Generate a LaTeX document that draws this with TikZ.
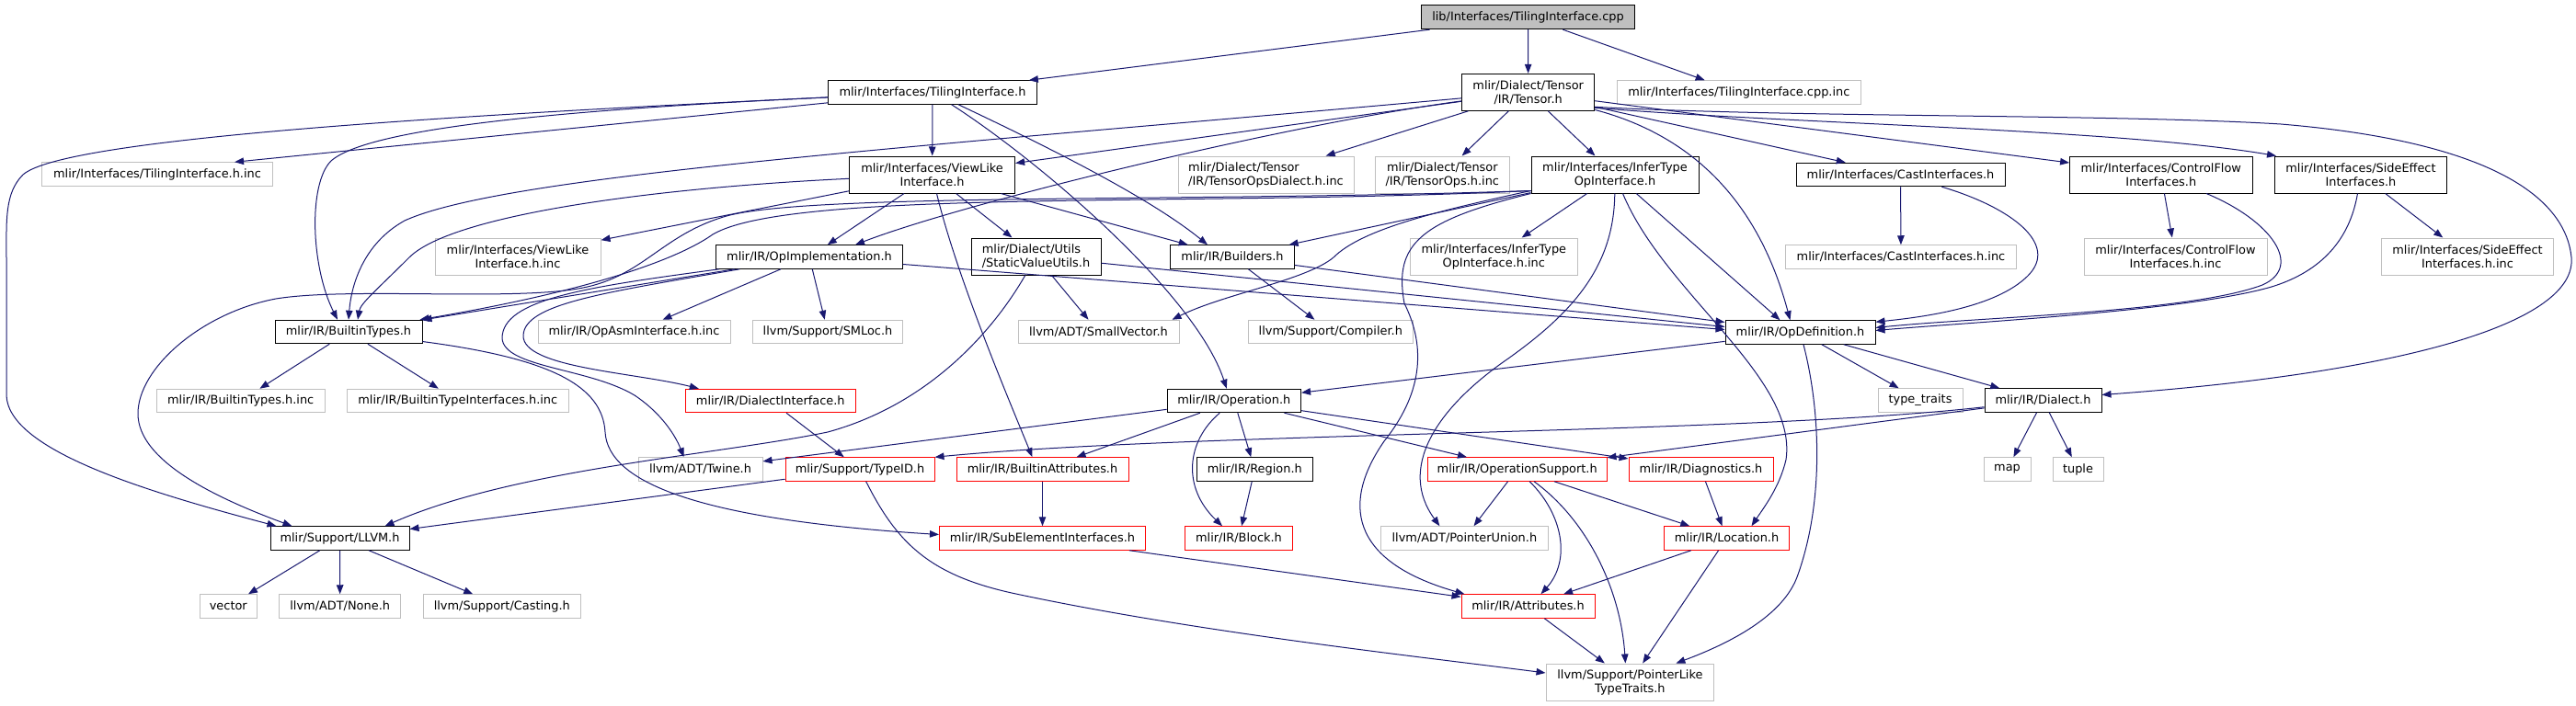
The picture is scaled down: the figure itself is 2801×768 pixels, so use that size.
\documentclass[tikz,border=0pt]{standalone}
\usepackage{fontspec}
\setmainfont{DejaVu Sans}
\usetikzlibrary{arrows.meta}
\definecolor{edgec}{HTML}{191970}
\definecolor{grayb}{HTML}{BFBFBF}
\definecolor{redb}{HTML}{FF0000}
\newcommand\dfont{\fontsize{12.9}{15}\selectfont}
\begin{document}
\begin{tikzpicture}[x=1pt,y=-1pt,
  base/.style={rectangle, inner sep=0pt, align=center, font=\dfont, line width=1pt, minimum height=25.5pt},
  nb/.style={base, draw=black},
  ng/.style={base, draw=grayb},
  nr/.style={base, draw=redb},
  two/.style={minimum height=40pt},
  edg/.style={draw=edgec, line width=1pt, -{Triangle[length=10pt,width=7.5pt]}}]
\fill[white] (0,0) rectangle (2801,768);
\useasboundingbox (0,0) rectangle (2801,768);
% ---------- nodes ----------
\node[nb, fill=grayb, minimum width=232pt, minimum height=26pt] (cpp) at (1661.5,18.7) {lib/Interfaces/TilingInterface.cpp};
\node[nb, minimum width=226.3pt] (tilingh) at (1014,100.5) {mlir/Interfaces/TilingInterface.h};
\node[nb, two, minimum width=144pt] (tensor) at (1661.7,100.3) {mlir/Dialect/Tensor\\/IR/Tensor.h};
\node[ng, minimum width=265.6pt] (cppinc) at (1890.8,100.5) {mlir/Interfaces/TilingInterface.cpp.inc};
\node[ng, minimum width=251pt] (tilinghinc) at (171,189.5) {mlir/Interfaces/TilingInterface.h.inc};
\node[nb, two, minimum width=180pt] (viewlike) at (1013.6,190) {mlir/Interfaces/ViewLike\\Interface.h};
\node[ng, two, minimum width=191pt, align=left] (tensordialectinc) at (1376.5,190) {mlir/Dialect/Tensor\\/IR/TensorOpsDialect.h.inc};
\node[ng, two, minimum width=145.5pt] (tensoropsinc) at (1568.3,190) {mlir/Dialect/Tensor\\/IR/TensorOps.h.inc};
\node[nb, two, minimum width=182pt] (infertype) at (1756,190) {mlir/Interfaces/InferType\\OpInterface.h};
\node[nb, minimum width=227pt] (cast) at (2066.5,190) {mlir/Interfaces/CastInterfaces.h};
\node[nb, two, minimum width=198.4pt] (controlflow) at (2349.8,190) {mlir/Interfaces/ControlFlow\\Interfaces.h};
\node[nb, two, minimum width=187pt] (sideeffect) at (2567,190) {mlir/Interfaces/SideEffect\\Interfaces.h};
\node[ng, two, minimum width=180pt] (viewlikeinc) at (563,279) {mlir/Interfaces/ViewLike\\Interface.h.inc};
\node[nb, minimum width=202.5pt] (opimpl) at (880,279.5) {mlir/IR/OpImplementation.h};
\node[nb, two, minimum width=141pt, align=left] (staticvalue) at (1126.5,279) {mlir/Dialect/Utils\\/StaticValueUtils.h};
\node[nb, minimum width=134.6pt] (builders) at (1340,279.5) {mlir/IR/Builders.h};
\node[ng, two, minimum width=181.4pt] (infertypeinc) at (1624.3,279) {mlir/Interfaces/InferType\\OpInterface.h.inc};
\node[ng, minimum width=250.6pt] (castinc) at (2067,279.5) {mlir/Interfaces/CastInterfaces.h.inc};
\node[ng, two, minimum width=199pt] (controlflowinc) at (2365.5,279) {mlir/Interfaces/ControlFlow\\Interfaces.h.inc};
\node[ng, two, minimum width=187pt] (sideeffectinc) at (2683,279) {mlir/Interfaces/SideEffect\\Interfaces.h.inc};
\node[nb, minimum width=160pt] (builtintypes) at (379,361) {mlir/IR/BuiltinTypes.h};
\node[ng, minimum width=209pt] (opasminc) at (689.5,361) {mlir/IR/OpAsmInterface.h.inc};
\node[ng, minimum width=162.5pt] (smloc) at (900,361) {llvm/Support/SMLoc.h};
\node[ng, minimum width=175pt] (smallvector) at (1194.5,361) {llvm/ADT/SmallVector.h};
\node[ng, minimum width=178.4pt] (compiler) at (1446.8,361) {llvm/Support/Compiler.h};
\node[nb, minimum width=163pt] (opdef) at (1957.5,361.5) {mlir/IR/OpDefinition.h};
\node[ng, minimum width=182.6pt] (builtintypesinc) at (261.7,436) {mlir/IR/BuiltinTypes.h.inc};
\node[ng, minimum width=241.6pt] (builtintypeifinc) at (497.8,436) {mlir/IR/BuiltinTypeInterfaces.h.inc};
\node[nr, minimum width=185.5pt] (dialectif) at (837.8,436) {mlir/IR/DialectInterface.h};
\node[nb, minimum width=145.5pt] (operation) at (1341.8,436) {mlir/IR/Operation.h};
\node[ng, minimum width=92pt] (typetraits) at (2088,435.5) {type\_traits};
\node[nb, minimum width=127pt] (dialect) at (2221.5,435.5) {mlir/IR/Dialect.h};
\node[ng, minimum width=135pt] (twine) at (761.5,510.5) {llvm/ADT/Twine.h};
\node[nr, minimum width=162pt] (typeid) at (935,510.5) {mlir/Support/TypeID.h};
\node[nr, minimum width=187pt] (builtinattr) at (1133.5,510.5) {mlir/IR/BuiltinAttributes.h};
\node[nb, minimum width=125.4pt] (region) at (1364.3,510.5) {mlir/IR/Region.h};
\node[nr, minimum width=194.6pt] (opsupport) at (1649.7,510.5) {mlir/IR/OperationSupport.h};
\node[nr, minimum width=157pt] (diagnostics) at (1849.5,510.5) {mlir/IR/Diagnostics.h};
\node[ng, minimum width=51pt] (map) at (2182.5,510.5) {map};
\node[ng, minimum width=55pt] (tuple) at (2259.5,510.5) {tuple};
\node[nb, minimum width=151pt] (llvm) at (369.5,585.5) {mlir/Support/LLVM.h};
\node[nr, minimum width=224pt] (subelem) at (1133.5,585.5) {mlir/IR/SubElementInterfaces.h};
\node[nr, minimum width=117pt] (block) at (1347,585.5) {mlir/IR/Block.h};
\node[ng, minimum width=182.8pt] (pointerunion) at (1592.4,585.5) {llvm/ADT/PointerUnion.h};
\node[nr, minimum width=136pt] (location) at (1877.5,585.5) {mlir/IR/Location.h};
\node[ng, minimum width=62.6pt] (vector) at (248.3,659.5) {vector};
\node[ng, minimum width=132.3pt] (none) at (369.7,659.5) {llvm/ADT/None.h};
\node[ng, minimum width=170.4pt] (casting) at (545.8,659.5) {llvm/Support/Casting.h};
\node[nr, minimum width=145pt] (attributes) at (1661.5,659.5) {mlir/IR/Attributes.h};
\node[ng, two, minimum width=182.8pt] (pointerlike) at (1772.4,742) {llvm/Support/PointerLike\\TypeTraits.h};
% ---------- edges ----------
% cpp
\draw[edg] (cpp) -- (tilingh);
\draw[edg] (cpp) -- (tensor);
\draw[edg] (cpp) -- (cppinc);
% TilingInterface.h
\draw[edg] (tilingh) -- ([xshift=84pt]tilinghinc.north);
\draw[edg] (tilingh) .. controls (500,125) and (70,150) .. (25,190) .. controls (5,210) and (7,240) .. (7,280) -- (7,430) .. controls (9,490) and (160,535) .. ([xshift=-69pt]llvm.north);
\draw[edg] (tilingh) .. controls (600,120) and (400,140) .. (360,175) .. controls (335,200) and (338,290) .. ([xshift=-12pt]builtintypes.north);
\draw[edg] (tilingh) -- (viewlike);
\draw[edg] (tilingh) .. controls (1130,175) and (1300,320) .. ([xshift=-8pt]operation.north);
\draw[edg] (tilingh) .. controls (1140,160) and (1250,215) .. ([xshift=-27pt]builders.north);
% Tensor.h
\draw[edg] (tensor) -- (tensordialectinc);
\draw[edg] (tensor) -- (tensoropsinc);
\draw[edg] (tensor) -- (infertype);
\draw[edg] (tensor) .. controls (1850,150) and (1915,230) .. ([xshift=-11pt]opdef.north);
\draw[edg] (tensor) -- (cast);
\draw[edg] (tensor) -- (controlflow);
\draw[edg] ([yshift=-17pt]tensor.east) .. controls (1950,135) and (2300,140) .. ([xshift=2pt]sideeffect.north west);
\draw[edg] ([yshift=-16pt]tensor.east) .. controls (1950,128) and (2300,124) .. (2480,135) .. controls (2720,155) and (2790,220) .. (2796,280) .. controls (2802,350) and (2620,405) .. ([yshift=6pt]dialect.east);
\draw[edg] (tensor) -- (viewlike);
\draw[edg] (tensor) .. controls (1400,135) and (1050,220) .. ([xshift=50pt]opimpl.north);
\draw[edg] (tensor) .. controls (1000,160) and (550,190) .. (440,240) .. controls (395,265) and (382,310) .. (builtintypes.north);
% ViewLikeInterface.h
\draw[edg] (viewlike) .. controls (700,205) and (490,235) .. (445,280) .. controls (410,315) and (392,330) .. ([xshift=10pt]builtintypes.north);
\draw[edg] (viewlike) -- (viewlikeinc);
\draw[edg] (viewlike) -- (opimpl);
\draw[edg] (viewlike) -- (staticvalue);
\draw[edg] (viewlike) -- (builders);
\draw[edg] (viewlike) .. controls (1040,300) and (1095,430) .. ([xshift=-11pt]builtinattr.north);
% InferTypeOpInterface.h
\draw[edg] (infertype) -- (infertypeinc);
\draw[edg] (infertype) -- ([xshift=-22pt]opdef.north);
\draw[edg] (infertype) .. controls (1810,320) and (1955,410) .. (1942,500) .. controls (1935,530) and (1918,552) .. ([xshift=27pt]location.north);
\draw[edg] (infertype) .. controls (1755,290) and (1710,340) .. (1640,390) .. controls (1560,445) and (1520,510) .. ([xshift=-27pt]pointerunion.north);
\draw[edg] (infertype.south west) .. controls (1545,240) and (1515,265) .. (1527,330) .. controls (1552,380) and (1545,430) .. (1505,480) .. controls (1460,545) and (1465,610) .. ([xshift=-69pt]attributes.north);
\draw[edg] (infertype) -- (builders);
\draw[edg] ([yshift=3pt]infertype.south west) .. controls (1300,225) and (860,205) .. (775,255) .. controls (740,280) and (650,315) .. ([xshift=-3pt]builtintypes.north east);
\draw[edg] ([yshift=3pt]infertype.south west) .. controls (1300,220) and (880,210) .. (790,235) .. controls (720,255) and (700,300) .. (634,313) .. controls (560,328) and (380,312) .. (300,325) .. controls (220,340) and (150,400) .. (150,450) .. controls (150,500) and (230,540) .. ([xshift=-52pt]llvm.north);
\draw[edg] ([yshift=3pt]infertype.south west) .. controls (1560,230) and (1480,250) .. (1450,280) .. controls (1420,305) and (1330,320) .. ([xshift=80pt]smallvector.north);
% Cast / ControlFlow / SideEffect
\draw[edg] (cast) -- (castinc);
\draw[edg] (cast) .. controls (2185,225) and (2240,265) .. (2205,300) .. controls (2170,335) and (2090,345) .. ([yshift=-2pt]opdef.north east);
\draw[edg] (controlflow) -- (controlflowinc);
\draw[edg] (controlflow) .. controls (2470,240) and (2505,290) .. (2460,310) .. controls (2380,340) and (2150,345) .. ([yshift=5pt]opdef.east);
\draw[edg] (sideeffect) -- (sideeffectinc);
\draw[edg] (sideeffect) .. controls (2555,260) and (2525,295) .. (2470,312) .. controls (2380,338) and (2150,350) .. ([yshift=2pt]opdef.east);
% OpImplementation.h
\draw[edg] (opimpl) -- (opasminc);
\draw[edg] (opimpl) -- (smloc);
\draw[edg] (opimpl) -- ([yshift=3pt]opdef.west);
\draw[edg] (opimpl) -- (builtintypes);
\draw[edg] (opimpl) .. controls (660,318) and (570,330) .. (569,365) .. controls (568,400) and (690,405) .. ([xshift=-78pt]dialectif.north);
\draw[edg] (opimpl) .. controls (640,312) and (546,325) .. (546,368) .. controls (548,400) and (640,400) .. (690,430) .. controls (720,450) and (735,475) .. ([xshift=-18pt]twine.north);
% StaticValueUtils.h
\draw[edg] (staticvalue) -- ([yshift=6pt]opdef.west);
\draw[edg] (staticvalue) -- (smallvector);
\draw[edg] (staticvalue) .. controls (1080,360) and (1010,440) .. (900,470) .. controls (780,495) and (560,510) .. ([xshift=49pt]llvm.north);
% Builders.h
\draw[edg] (builders) -- ([yshift=11pt]opdef.west);
\draw[edg] (builders) -- (compiler);
% BuiltinTypes.h
\draw[edg] (builtintypes) -- (builtintypesinc);
\draw[edg] (builtintypes) -- (builtintypeifinc);
\draw[edg] (builtintypes) .. controls (600,390) and (655,420) .. (658,470) .. controls (661,525) and (760,565) .. ([yshift=4pt]subelem.west);
% DialectInterface.h
\draw[edg] (dialectif) -- (typeid);
% OpDefinition.h
\draw[edg] (opdef) -- (operation);
\draw[edg] (opdef) -- (typetraits);
\draw[edg] (opdef) -- (dialect);
\draw[edg] (opdef) .. controls (1978,440) and (1985,540) .. (1955,625) .. controls (1940,670) and (1880,700) .. ([xshift=50pt]pointerlike.north);
% Dialect.h
\draw[edg] (dialect) -- (map);
\draw[edg] (dialect) -- (tuple);
\draw[edg] (dialect) .. controls (1900,472) and (1300,470) .. (typeid.north east);
\draw[edg] (dialect) -- (opsupport);
% Operation.h
\draw[edg] (operation) -- (twine);
\draw[edg] (operation) -- (builtinattr);
\draw[edg] (operation) .. controls (1290,480) and (1285,530) .. ([xshift=-18pt]block.north);
\draw[edg] (operation) -- (region);
\draw[edg] (operation) -- (opsupport);
\draw[edg] (operation) -- (diagnostics);
% others
\draw[edg] (region) -- (block);
\draw[edg] (typeid) -- (llvm);
\draw[edg] (typeid) .. controls (975,590) and (1010,625) .. (1100,645) .. controls (1300,688) and (1550,715) .. ([yshift=10pt]pointerlike.west);
\draw[edg] (builtinattr) -- (subelem);
\draw[edg] (subelem) -- (attributes);
\draw[edg] (opsupport) -- (pointerunion);
\draw[edg] (opsupport) .. controls (1700,560) and (1708,610) .. ([xshift=14pt]attributes.north);
\draw[edg] (opsupport) .. controls (1725,565) and (1762,640) .. ([xshift=-5pt]pointerlike.north);
\draw[edg] (opsupport) -- (location);
\draw[edg] (diagnostics) -- (location);
\draw[edg] (location) -- (attributes);
\draw[edg] (location) -- (pointerlike);
\draw[edg] (attributes) -- (pointerlike);
\draw[edg] (llvm) -- (vector);
\draw[edg] (llvm) -- (none);
\draw[edg] (llvm) -- (casting);
\end{tikzpicture}
\end{document}
